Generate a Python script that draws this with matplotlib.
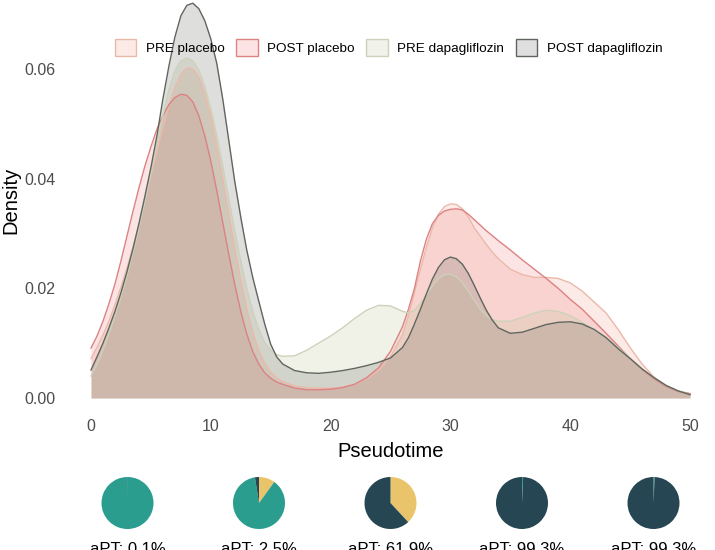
import numpy as np
import matplotlib.pyplot as plt
from matplotlib.patches import Patch

plt.rcParams['font.family'] = ['Liberation Sans', 'DejaVu Sans']

# pseudotime positions where the densities were read (finer around the peaks)
pseudotime = [0, 0.5, 1, 1.5, 2, 2.5, 3, 3.5, 4, 4.5, 5, 5.5, 6, 6.5, 7, 7.5, 8, 8.5, 9, 9.5,
              10, 10.5, 11, 11.5, 12, 12.5, 13, 13.5, 14, 14.5, 15, 15.5, 16,
              17, 18, 19, 20, 21, 22, 23, 24, 25,
              26, 26.5, 27, 27.5, 28, 28.5, 29, 29.5, 30, 30.5, 31, 31.5, 32, 32.5, 33, 33.5, 34,
              35, 36, 37, 38, 39, 40, 41, 42, 43, 44, 45, 46, 47, 48, 49, 50]

pre_placebo = [0.0072, 0.0092, 0.0115, 0.0140, 0.0170, 0.0202, 0.0237, 0.0275, 0.0316, 0.0360,
               0.0405, 0.0450, 0.0493, 0.0533, 0.0566, 0.0590, 0.0602, 0.0600, 0.0585, 0.0555,
               0.0512, 0.0458, 0.0398, 0.0335, 0.0273, 0.0215, 0.0163, 0.0120, 0.0087, 0.0063,
               0.0047, 0.0037, 0.0030,
               0.0022, 0.0019, 0.0018, 0.0018, 0.0020, 0.0025, 0.0035, 0.0050, 0.0075,
               0.0115, 0.0150, 0.0192, 0.0235, 0.0275, 0.0310, 0.0335, 0.0349, 0.0354, 0.0353,
               0.0345, 0.0330, 0.0310, 0.0295, 0.0280, 0.0266, 0.0254,
               0.0235, 0.0225, 0.0220, 0.0220, 0.0218, 0.0210, 0.0195, 0.0175, 0.0155, 0.0125,
               0.0092, 0.0062, 0.0038, 0.0022, 0.0013, 0.0008]
post_placebo = [0.0091, 0.0113, 0.0140, 0.0172, 0.0208, 0.0250, 0.0295, 0.0340, 0.0383, 0.0423,
                0.0458, 0.0490, 0.0515, 0.0535, 0.0548, 0.0554, 0.0552, 0.0540, 0.0515, 0.0478,
                0.0432, 0.0378, 0.0320, 0.0262, 0.0207, 0.0158, 0.0117, 0.0085, 0.0062, 0.0046,
                0.0036, 0.0029, 0.0025,
                0.0018, 0.0015, 0.0015, 0.0016, 0.0019, 0.0025, 0.0037, 0.0055, 0.0085,
                0.0130, 0.0162, 0.0200, 0.0250, 0.0290, 0.0318, 0.0333, 0.0341, 0.0344, 0.0345,
                0.0343, 0.0335, 0.0325, 0.0315, 0.0305, 0.0296, 0.0287,
                0.0270, 0.0252, 0.0235, 0.0218, 0.0200, 0.0180, 0.0162, 0.0140, 0.0118, 0.0095,
                0.0072, 0.0052, 0.0035, 0.0021, 0.0012, 0.0008]
pre_dapa = [0.0040, 0.0062, 0.0088, 0.0117, 0.0150, 0.0185, 0.0223, 0.0265, 0.0310, 0.0360,
            0.0410, 0.0462, 0.0515, 0.0562, 0.0597, 0.0615, 0.0620, 0.0615, 0.0598, 0.0568,
            0.0527, 0.0478, 0.0422, 0.0363, 0.0305, 0.0250, 0.0200, 0.0158, 0.0125, 0.0101,
            0.0087, 0.0079, 0.0076,
            0.0077, 0.0087, 0.0100, 0.0113, 0.0128, 0.0145, 0.0160, 0.0169, 0.0168,
            0.0158, 0.0155, 0.0160, 0.0172, 0.0188, 0.0205, 0.0218, 0.0225, 0.0226, 0.0221,
            0.0210, 0.0195, 0.0178, 0.0162, 0.0150, 0.0143, 0.0140,
            0.0140, 0.0147, 0.0155, 0.0160, 0.0158, 0.0150, 0.0138, 0.0124, 0.0110, 0.0092,
            0.0072, 0.0053, 0.0037, 0.0023, 0.0013, 0.0006]
post_dapa = [0.0051, 0.0075, 0.0100, 0.0128, 0.0158, 0.0192, 0.0230, 0.0272, 0.0318, 0.0368,
             0.0420, 0.0478, 0.0545, 0.0605, 0.0658, 0.0697, 0.0716, 0.0720, 0.0710, 0.0688,
             0.0655, 0.0610, 0.0545, 0.0470, 0.0395, 0.0330, 0.0270, 0.0220, 0.0177, 0.0135,
             0.0098, 0.0075, 0.0062,
             0.0050, 0.0046, 0.0045, 0.0047, 0.0050, 0.0054, 0.0059, 0.0065, 0.0073,
             0.0092, 0.0110, 0.0135, 0.0162, 0.0190, 0.0217, 0.0238, 0.0252, 0.0257, 0.0254,
             0.0244, 0.0227, 0.0205, 0.0182, 0.0160, 0.0142, 0.0128,
             0.0118, 0.0120, 0.0127, 0.0134, 0.0138, 0.0139, 0.0135, 0.0125, 0.0110, 0.0090,
             0.0072, 0.0053, 0.0037, 0.0023, 0.0013, 0.0006]

groups = ['PRE placebo', 'POST placebo', 'PRE dapagliflozin', 'POST dapagliflozin']
fills = ['#F09682', '#EB7873', '#B8C090', '#5A5F58']
edges = ['#EBB9AA', '#DC8282', '#CDD1B9', '#5F665E']

# pies under the density plot
pie_labels = ['aPT: 0.1%', 'aPT: 2.5%', 'aPT: 61.9%', 'aPT: 99.3%', 'aPT: 99.3%']
pie_yellow = [0.0, 10.0, 38.1, 0.0, 0.0]
pie_teal = [99.9, 87.5, 0.0, 0.7, 0.7]
pie_dark = [0.1, 2.5, 61.9, 99.3, 99.3]
pie_colors = ['#E9C46A', '#2A9D8F', '#264653']

W, H = 715, 550
fig = plt.figure(figsize=(W / 100, H / 100), dpi=100)

# main axes: x 0 -> px 91, 50 -> px 690 ; y 0 -> px 398, 0.06 -> px 69
xlo, xhi = -2.5, 52.5
ylo, yhi = -0.0036, 0.0758
pxu = (690 - 91) / 50
pyu = (398 - 69) / 0.06
left = 91 + xlo * pxu
right = 91 + xhi * pxu
bottom = 398 - ylo * pyu
top = 398 - yhi * pyu
ax = fig.add_axes([left / W, (H - bottom) / H, (right - left) / W, (bottom - top) / H])

for vals, fc, ec in zip([pre_placebo, post_placebo, pre_dapa, post_dapa], fills, edges):
    ax.fill_between(pseudotime, 0, vals, color=fc, alpha=0.2, linewidth=0)
    ax.plot(pseudotime, vals, color=ec, lw=1.0, solid_joinstyle='round')

ax.set_xlim(xlo, xhi)
ax.set_ylim(ylo, yhi)
ax.set_xticks([0, 10, 20, 30, 40, 50])
ax.set_yticks([0, 0.02, 0.04, 0.06])
ax.set_yticklabels(['0.00', '0.02', '0.04', '0.06'])
ax.tick_params(length=0, labelsize=11.5, labelcolor='#4D4D4D', pad=4)
ax.tick_params(axis='x', pad=1)
for s in ax.spines.values():
    s.set_visible(False)
ax.set_xlabel('Pseudotime', fontsize=14.5, labelpad=6)
ax.set_ylabel('Density', fontsize=14.5, labelpad=3)

handles = []
for lab, fc, ec in zip(groups, fills, edges):
    rgb = np.array(plt.matplotlib.colors.to_rgb(fc))
    handles.append(Patch(facecolor=1 - 0.2 * (1 - rgb), edgecolor=ec, label=lab, linewidth=1.0))
ax.legend(handles=handles, loc='center', bbox_to_anchor=(0.497, 0.851), ncol=4,
          frameon=False, fontsize=9.7, handlelength=1.6, handleheight=1.6,
          handletextpad=0.7, columnspacing=0.85)

centers = [127.5, 259, 390.5, 522, 653.5]
r = 26
for i, cx in enumerate(centers):
    pa = fig.add_axes([(cx - r) / W, (H - 503 - r) / H, 2 * r / W, 2 * r / H])
    sizes = [pie_yellow[i], pie_teal[i], pie_dark[i]]
    pa.pie(sizes, colors=pie_colors, startangle=90, counterclock=False,
           wedgeprops=dict(linewidth=0))
    pa.set_xlim(-1, 1)
    pa.set_ylim(-1, 1)
    fig.text(cx / W, -4 / H, pie_labels[i], ha='center', va='baseline', fontsize=12)

fig.savefig('out.png', dpi=100)
